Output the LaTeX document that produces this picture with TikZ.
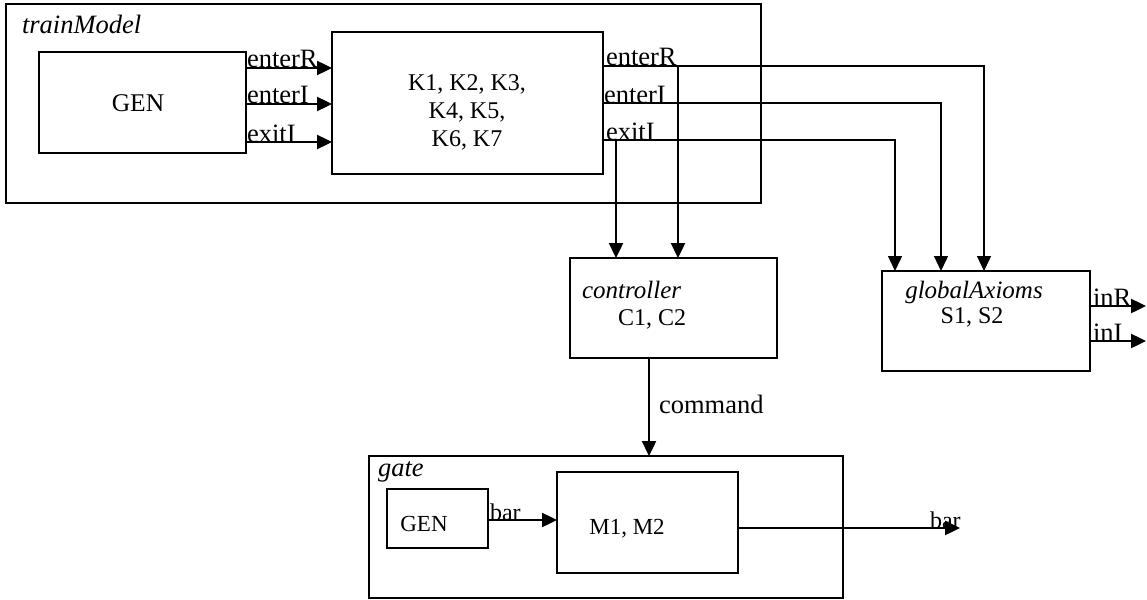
\documentclass[tikz,border=0pt]{standalone}
\usepackage{fontspec}
\setmainfont{Liberation Serif}
\usetikzlibrary{arrows.meta}
\begin{document}
\begin{tikzpicture}[x=1pt,y=-1pt,
  box/.style={draw, line width=1.5pt, inner sep=0pt, outer sep=0pt},
  lbl/.style={inner sep=0pt, outer sep=0pt, font=\fontsize{24}{28}\selectfont},
  plbl/.style={inner sep=0pt, outer sep=0pt, font=\fontsize{26.5}{28}\selectfont},
  slbl/.style={inner sep=0pt, outer sep=0pt, font=\fontsize{23}{26}\selectfont},
  ilbl/.style={inner sep=0pt, outer sep=0pt, font=\fontsize{26.5}{28}\selectfont\itshape},
  thickarr/.style={line width=2.4pt, -{Triangle[length=15pt,width=14pt]}},
  thinarr/.style={line width=1.3pt, -{Triangle[length=15pt,width=14pt]}}]
\useasboundingbox (0,0) rectangle (1147,599);
% boxes
\node[box, minimum width=755, minimum height=199] (train) at (383.5,103.5) {};
\node[box, minimum width=207, minimum height=101] (gen1) at (142.5,102.5) {};
\node[box, minimum width=271, minimum height=142] (k) at (467.5,103) {};
\node[box, minimum width=207, minimum height=100] (ctrl) at (673.5,308) {};
\node[box, minimum width=208, minimum height=100] (glob) at (986,321) {};
\node[box, minimum width=474, minimum height=142] (gate) at (606,527) {};
\node[box, minimum width=101, minimum height=59] (gen2) at (437.5,518.5) {};
\node[box, minimum width=181, minimum height=101] (m) at (647.5,522.5) {};
% texts
\node[ilbl, anchor=base west] (tmlabel) at (22,34) {trainModel};
\node[lbl, anchor=base, font=\fontsize{25.5}{28}\selectfont] (gen1t) at (138,112) {GEN};
\node[lbl, align=center] (kt) at (467,112) {K1, K2, K3,\\K4, K5,\\K6, K7};
\node[ilbl, font=\fontsize{25}{28}\selectfont\itshape, anchor=base west] (ctrllabel) at (582,298) {controller};
\node[lbl, anchor=base] (ctrlt) at (652,325) {C1, C2};
\node[ilbl, font=\fontsize{25}{28}\selectfont\itshape, anchor=base] (globlabel) at (974,298) {globalAxioms};
\node[lbl, anchor=base] (globt) at (972,323) {S1, S2};
\node[ilbl, anchor=base west] (gatelabel) at (378,476) {gate};
\node[slbl, anchor=base] (gen2t) at (424,531) {GEN};
\node[slbl, anchor=base] (mt) at (627,534) {M1, M2};
% GEN -> K
\draw[thickarr] (gen1.east |- 0,68) -- (k.west |- 0,68)
  node[plbl, anchor=base west, pos=0, xshift=1] {enterR};
\draw[thickarr] (gen1.east |- 0,104) -- (k.west |- 0,104)
  node[plbl, anchor=base west, pos=0, xshift=1] {enterI};
\draw[thickarr] (gen1.east |- 0,142) -- (k.west |- 0,142)
  node[plbl, anchor=base west, pos=0, xshift=1] {exitI};
% K -> globalAxioms
\draw[thinarr] (k.east |- 0,66) -- (984,66) -- (glob.north -| 984,0);
\draw[thinarr] (k.east |- 0,103) -- (941,103) -- (glob.north -| 941,0);
\draw[thinarr] (k.east |- 0,140) -- (895,140) -- (glob.north -| 895,0);
\node[plbl, anchor=base west] (oer) at (606,66) {enterR};
\node[plbl, anchor=base west] (oei) at (604,103) {enterI};
\node[plbl, anchor=base west] (oxi) at (606,140) {exitI};
% K -> controller
\draw[thickarr] (616,140) -- (ctrl.north -| 616,0);
\draw[thickarr] (678,66) -- (ctrl.north -| 678,0);
% controller -> gate
\draw[thickarr] (ctrl.south -| 649,0) -- (gate.north -| 649,0);
\node[plbl, anchor=base west] (cmd) at (659,413) {command};
% globalAxioms outputs
\draw[thickarr] (glob.east |- 0,306) -- (1146,306)
  node[plbl, anchor=base west, pos=0, xshift=3] {inR};
\draw[thickarr] (glob.east |- 0,341) -- (1146,341)
  node[plbl, anchor=base west, pos=0, xshift=3] {inI};
% gate internals
\draw[thickarr] (gen2.east |- 0,520) -- (m.west |- 0,520)
  node[lbl, anchor=base west, pos=0, xshift=2] {bar};
\coordinate (barend) at (960,528);
\draw[thickarr] (m.east |- 0,528) -- (barend);
\node[lbl, anchor=base west] (barout) at (930,528) {bar};
\end{tikzpicture}
\end{document}
